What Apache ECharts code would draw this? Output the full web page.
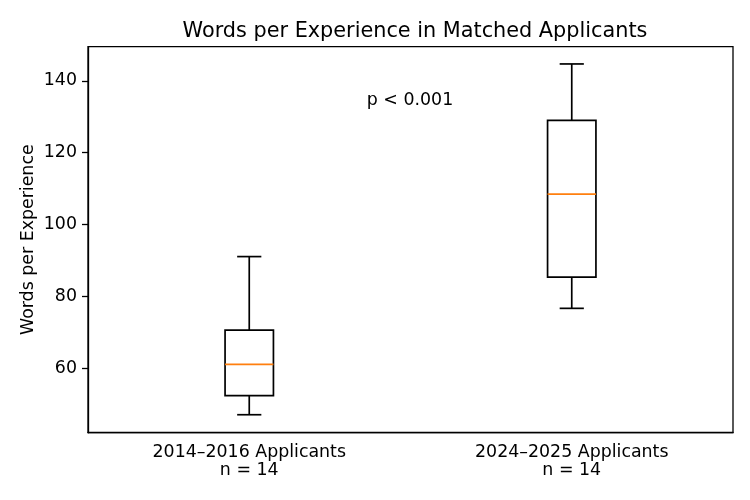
<!DOCTYPE html>
<html>
<head>
<meta charset="utf-8">
<script src="https://cdn.jsdelivr.net/npm/echarts@6/dist/echarts.min.js"></script>
<style>
	html, body { margin: 0; padding: 0; background: #fff; }
	#chart { width: 750px; height: 500px; }
</style>
</head>
<body>
<div id="chart"></div>
<script>
// values
const categories = ['2014–2016 Applicants\nn = 14', '2024–2025 Applicants\nn = 14'];
const whiskerLow = [47.1, 76.7];
const q1 = [52.4, 85.4];
const median = [61.1, 108.5];
const q3 = [70.65, 129.0];
const whiskerHigh = [91.1, 144.7];
const yTicks = [60, 80, 100, 120, 140];

const FONT = 'DejaVu Sans';

const boxData = categories.map(function (c, i) {
	return [i, whiskerLow[i], q1[i], median[i], q3[i], whiskerHigh[i]];
});

// draws one matplotlib style box: box, orange median, whiskers, short caps
function renderBox(params, api) {
	const x = api.value(0);
	const band = api.size([1, 0])[0];
	const half = band * 0.15 / 2;
	const capHalf = half / 2;
	const pLow = api.coord([x, api.value(1)]);
	const pQ1 = api.coord([x, api.value(2)]);
	const pMed = api.coord([x, api.value(3)]);
	const pQ3 = api.coord([x, api.value(4)]);
	const pHigh = api.coord([x, api.value(5)]);
	const cx = pQ1[0];
	const line = { stroke: '#000', lineWidth: 1.7, fill: null };
	return {
		type: 'group',
		children: [
			{ type: 'line', shape: { x1: cx, y1: pLow[1], x2: cx, y2: pQ1[1] }, style: line },
			{ type: 'line', shape: { x1: cx, y1: pQ3[1], x2: cx, y2: pHigh[1] }, style: line },
			{ type: 'line', shape: { x1: cx - capHalf, y1: pLow[1], x2: cx + capHalf, y2: pLow[1] }, style: line },
			{ type: 'line', shape: { x1: cx - capHalf, y1: pHigh[1], x2: cx + capHalf, y2: pHigh[1] }, style: line },
			{ type: 'rect', shape: { x: cx - half, y: pQ3[1], width: half * 2, height: pQ1[1] - pQ3[1] }, style: line },
			{ type: 'line', shape: { x1: cx - half, y1: pMed[1], x2: cx + half, y2: pMed[1] }, style: { stroke: '#ff7f0e', lineWidth: 1.8 } }
		]
	};
}

const chart = echarts.init(document.getElementById('chart'));
chart.setOption({
	animation: false,
	textStyle: { fontFamily: FONT, color: '#000' },
	title: {
		text: 'Words per Experience in Matched Applicants',
		left: 410,
		textAlign: 'center',
		top: 16,
		textStyle: { fontFamily: FONT, fontSize: 20.8, fontWeight: 'normal', color: '#000' }
	},
	graphic: [{
		type: 'text',
		x: 410,
		y: 100,
		style: {
			text: 'p < 0.001', font: '17.4px "DejaVu Sans"', fill: '#000',
			textAlign: 'center', textVerticalAlign: 'middle'
		}
	}],
	grid: {
		left: 88, right: 17, top: 46.7, bottom: 67.3,
		show: true, borderColor: '#000', borderWidth: 1.3, backgroundColor: 'transparent'
	},
	xAxis: {
		type: 'category',
		data: categories,
		boundaryGap: true,
		axisLine: { lineStyle: { color: '#000', width: 1.3 } },
		axisTick: { alignWithLabel: true, length: 6, lineStyle: { color: '#000', width: 1.3 } },
		axisLabel: { fontFamily: FONT, fontSize: 17.4, color: '#000', margin: 11, lineHeight: 18 }
	},
	yAxis: {
		type: 'value',
		min: 42.1,
		max: 149.5,
		name: 'Words per Experience',
		nameLocation: 'middle',
		nameGap: 51,
		nameMoveOverlap: false,
		nameTextStyle: { fontFamily: FONT, fontSize: 17.4, color: '#000' },
		splitLine: { show: false },
		axisLine: { show: true, lineStyle: { color: '#000', width: 1.3 } },
		axisTick: { show: true, length: 6, customValues: yTicks, lineStyle: { color: '#000', width: 1.3 } },
		axisLabel: { fontFamily: FONT, fontSize: 17.4, color: '#000', margin: 11, customValues: yTicks }
	},
	series: [{
		type: 'custom',
		renderItem: renderBox,
		encode: { x: 0, y: [1, 2, 3, 4, 5] },
		data: boxData
	}]
});
</script>
</body>
</html>
